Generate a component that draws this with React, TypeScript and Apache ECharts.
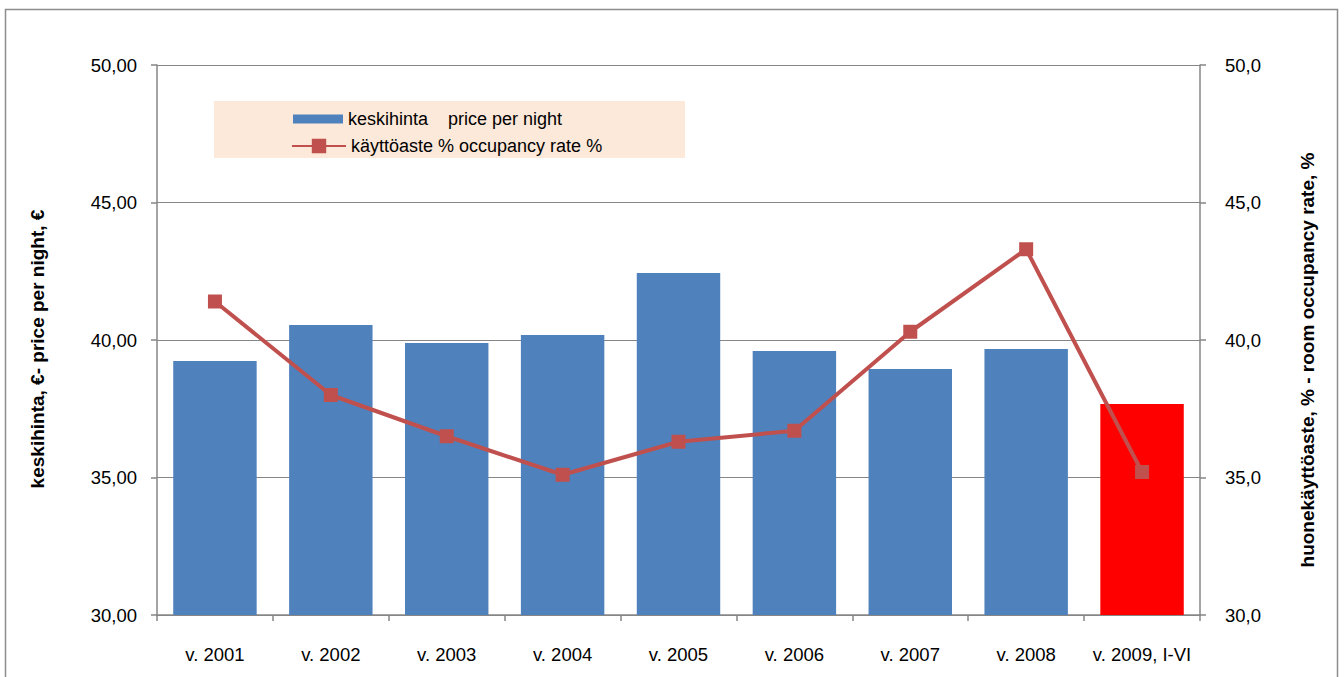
import React, { useEffect, useRef } from "react";
import * as echarts from "echarts";

const categories = ["v. 2001", "v. 2002", "v. 2003", "v. 2004", "v. 2005", "v. 2006", "v. 2007", "v. 2008", "v. 2009, I-VI"];
const pricePerNight = [39.24, 40.55, 39.89, 40.18, 42.44, 39.6, 38.95, 39.67, 37.67];
const occupancyRate = [41.4, 38.0, 36.5, 35.1, 36.3, 36.7, 40.3, 43.3, 35.2];
const barColors = ["#4F81BD", "#4F81BD", "#4F81BD", "#4F81BD", "#4F81BD", "#4F81BD", "#4F81BD", "#4F81BD", "#FF0000"];
const priceName = "keskihinta    price per night";
const occName = "käyttöaste % occupancy rate %";
const leftTitle = "keskihinta, €- price per night, €";
const rightTitle = "huonekäyttöaste, % - room occupancy rate, %";

const FONT = "Liberation Sans, Arial, sans-serif";

export default function App() {
  const ref = useRef<HTMLDivElement>(null);
  useEffect(() => {
    if (!ref.current) return;
    const chart = echarts.init(ref.current, null, { renderer: "svg" });
    chart.setOption({
      animation: false,
      backgroundColor: "#ffffff",
      textStyle: { fontFamily: FONT, color: "#000" },
      graphic: [
        {
          type: "rect",
          shape: { x: 5.5, y: 9.5, width: 1332, height: 720 },
          style: { fill: "none", stroke: "#8c8c8c", lineWidth: 1.5 },
          z: -10,
        },
        {
          type: "rect",
          shape: { x: 214, y: 101, width: 471, height: 57 },
          style: { fill: "#FDE9D9" },
          z: 0,
        },
      ],
      legend: [
        {
          data: [{ name: priceName, icon: "rect" }],
          left: 293,
          top: 110,
          padding: 0,
          itemWidth: 50,
          itemHeight: 9,
          textStyle: { fontSize: 18, fontFamily: FONT, color: "#000" },
          z: 10,
        },
        {
          data: [{ name: occName }],
          left: 291,
          top: 137,
          padding: 0,
          itemWidth: 54,
          itemHeight: 18,
          textStyle: { fontSize: 18, fontFamily: FONT, color: "#000" },
          z: 10,
        },
      ],
      grid: { left: 157, top: 65, width: 1043, height: 550, containLabel: false },
      xAxis: {
        type: "category",
        data: categories,
        axisLine: { lineStyle: { color: "#868686", width: 1.5 } },
        axisTick: { show: true, length: 6, lineStyle: { color: "#868686", width: 1.5 } },
        axisLabel: { interval: 0, fontSize: 18.5, color: "#000", margin: 30, fontFamily: FONT },
      },
      yAxis: [
        {
          type: "value",
          min: 30,
          max: 50,
          interval: 5,
          position: "left",
          name: leftTitle,
          nameLocation: "middle",
          nameGap: 110,
          nameRotate: 90,
          nameTextStyle: { fontSize: 19, fontWeight: "bold", color: "#000", fontFamily: FONT, padding: [0, 18, 0, 0] },
          axisLine: { show: true, lineStyle: { color: "#868686", width: 1.5 } },
          axisTick: { show: true, length: 6, lineStyle: { color: "#868686", width: 1.5 } },
          axisLabel: { fontSize: 18.5, color: "#000", margin: 20, fontFamily: FONT, formatter: (v: number) => v.toFixed(2).replace(".", ",") },
          splitLine: { show: true, lineStyle: { color: "#868686", width: 1 } },
        },
        {
          type: "value",
          min: 30,
          max: 50,
          interval: 5,
          position: "right",
          name: rightTitle,
          nameLocation: "middle",
          nameGap: 98,
          nameRotate: 90,
          nameTextStyle: { fontSize: 19, fontWeight: "bold", color: "#000", fontFamily: FONT, padding: [0, 40, 0, 0] },
          axisLine: { show: true, lineStyle: { color: "#868686", width: 1.5 } },
          axisTick: { show: true, length: 6, lineStyle: { color: "#868686", width: 1.5 } },
          axisLabel: { fontSize: 18.5, color: "#000", margin: 25, fontFamily: FONT, formatter: (v: number) => v.toFixed(1).replace(".", ",") },
          splitLine: { show: false },
        },
      ],
      series: [
        {
          name: priceName,
          type: "bar",
          yAxisIndex: 0,
          barWidth: "72%",
          itemStyle: { color: "#4F81BD" },
          data: pricePerNight.map((v, i) => ({ value: v, itemStyle: { color: barColors[i] } })),
        },
        {
          name: occName,
          type: "line",
          yAxisIndex: 1,
          data: occupancyRate,
          symbol: "rect",
          symbolSize: 14,
          itemStyle: { color: "#C0504D" },
          lineStyle: { color: "#C0504D", width: 4 },
          z: 5,
        },
      ],
    });
    return () => chart.dispose();
  }, []);
  return <div ref={ref} style={{ position: "absolute", left: 0, top: 0, width: 1344, height: 677 }} />;
}
